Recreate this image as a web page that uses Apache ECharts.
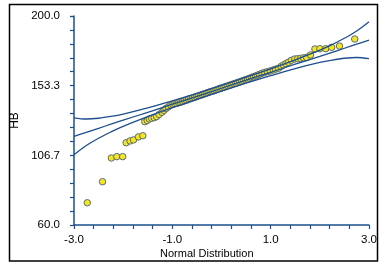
<!DOCTYPE html>
<html>
<head>
<meta charset="utf-8">
<script src="https://cdn.jsdelivr.net/npm/echarts@6/dist/echarts.min.js"></script>
<style>
    html, body { margin: 0; padding: 0; background: #fff; }
    #chart { width: 390px; height: 269px; }
</style>
</head>
<body>
<div id="chart"></div>
<script>
// normal scores (x) and HB values (y)
const normalScores = [
    -2.73, -2.42, -2.24, -2.13, -2.01, -1.94, -1.86, -1.79, -1.69, -1.60,
    -1.56, -1.51, -1.47, -1.42, -1.37, -1.32, -1.27, -1.21, -1.17, -1.13, -1.08, -1.03,
    -0.99, -0.95, -0.91, -0.87, -0.83, -0.79, -0.75, -0.71, -0.67, -0.63,
    -0.59, -0.55, -0.51, -0.47, -0.43, -0.39, -0.35, -0.31, -0.27, -0.23,
    -0.19, -0.15, -0.11, -0.07, -0.03, 0.01, 0.05, 0.09, 0.13, 0.17,
    0.21, 0.25, 0.29, 0.33, 0.37, 0.41, 0.45, 0.49, 0.53, 0.57,
    0.61, 0.65, 0.69, 0.73, 0.77, 0.82, 0.87, 0.93, 0.99, 1.05,
    1.10, 1.16, 1.21, 1.26, 1.31, 1.36, 1.42, 1.49, 1.55, 1.61,
    1.67, 1.73, 1.81, 1.90, 2.00, 2.12, 2.24, 2.40, 2.71
];
const hbValues = [
    74.9, 89.0, 104.9, 105.8, 105.8, 115.1, 116.3, 117.0, 119.0, 119.8,
    129.2, 130.0, 131.0, 131.5, 131.9, 132.6, 134.0, 135.5, 136.8, 138.0, 139.2, 140.3,
    140.8, 141.2, 141.5, 142.0, 142.3, 142.8, 143.2, 143.6, 144.3, 144.6,
    145.0, 145.5, 146.0, 146.5, 146.9, 147.4, 147.8, 148.3, 148.8, 149.2,
    149.6, 150.0, 150.5, 151.0, 151.5, 151.9, 152.3, 152.8, 153.2, 153.7,
    154.1, 154.6, 155.0, 155.5, 155.9, 156.4, 156.9, 157.3, 157.8, 158.3,
    158.8, 159.3, 159.8, 160.3, 160.9, 161.6, 162.1, 162.7, 163.2, 163.8,
    164.4, 165.0, 166.2, 167.2, 168.1, 169.0, 170.3, 171.2, 171.4, 171.6,
    172.0, 172.3, 173.9, 177.9, 178.1, 178.1, 179.0, 179.9, 184.6
];

// fit line and confidence limits, read at these normal scores
const curveZ = [-3, -2.75, -2.5, -2.25, -2, -1.5, -1, -0.5, 0, 0.5, 1, 1.5, 2, 2.25, 2.5, 2.75, 3];
const fitLine = [119.4, 122.1, 124.8, 127.5, 130.2, 135.5, 140.9, 146.2, 151.6, 157.0, 162.3, 167.7, 173.0, 175.7, 178.4, 181.1, 183.8];
const upperLimit = [131.8, 131.0, 131.5, 132.7, 134.3, 138.4, 143.2, 148.2, 153.5, 159.0, 164.6, 170.6, 177.1, 180.9, 185.1, 190.0, 196.2];
const lowerLimit = [107.0, 113.2, 118.1, 122.3, 126.1, 132.6, 138.6, 144.2, 149.7, 155.0, 160.0, 164.8, 168.9, 170.5, 171.7, 172.2, 171.4];

const yTicks = [60, 200];
const xTicks = [-3, 3];

const axisBlue = '#1d4f8e',
    font = '"Liberation Sans", Arial, sans-serif';

const pair = (xs, ys) => xs.map((x, i) => [x, ys[i]]);

const lineSeries = (vals) => ({
    type: 'line',
    data: pair(curveZ, vals),
    smooth: 0.35,
    showSymbol: false,
    symbol: 'none',
    z: 3,
    lineStyle: { color: axisBlue, width: 1.3 },
    silent: true,
});

const option = {
    animation: false,
    title: {
        text: 'Normal Distribution',
        left: 155,
        top: 243,
        textStyle: { fontFamily: font, fontSize: 11, fontWeight: 'normal', color: '#000' },
    },
    grid: { left: 74, right: 21, top: 16, bottom: 44 },
    graphic: [
        {
            type: 'rect',
            shape: { x: 9.5, y: 4.5, width: 368, height: 256.5 },
            style: { fill: 'none', stroke: '#000', lineWidth: 1.5 },
            z: 10,
        },
    ],
    xAxis: {
        type: 'value',
        min: xTicks[0],
        max: xTicks[1],
        interval: 2,
        axisLine: { onZero: false, lineStyle: { color: axisBlue, width: 1.5 } },
        axisTick: { show: true, length: 4, lineStyle: { color: axisBlue, width: 1.2 } },
        minorTick: { show: true, splitNumber: 5, length: 4, lineStyle: { color: axisBlue, width: 1.2 } },
        splitLine: { show: false },
        axisLabel: {
            margin: 9,
            fontFamily: font,
            fontSize: 11.5,
            color: '#000',
            formatter: (v) => v.toFixed(1),
        },
    },
    yAxis: {
        type: 'value',
        name: 'HB',
        nameLocation: 'middle',
        nameGap: 53,
        nameTextStyle: { fontFamily: font, fontSize: 12, color: '#000' },
        min: yTicks[0],
        max: yTicks[1],
        interval: (yTicks[1] - yTicks[0]) / 3,
        axisLine: { show: true, onZero: false, lineStyle: { color: axisBlue, width: 1.5 } },
        axisTick: { show: true, length: 4, lineStyle: { color: axisBlue, width: 1.2 } },
        minorTick: { show: true, splitNumber: 5, length: 4, lineStyle: { color: axisBlue, width: 1.2 } },
        splitLine: { show: false },
        axisLabel: {
            margin: 14,
            fontFamily: font,
            fontSize: 11.5,
            color: '#000',
            formatter: (v) => v.toFixed(1),
        },
    },
    series: [
        {
            type: 'scatter',
            data: pair(normalScores, hbValues),
            symbol: 'circle',
            symbolSize: 6.5,
            z: 2,
            itemStyle: { color: '#f7e51c', borderColor: '#566a86', borderWidth: 1, opacity: 1 },
        },
        lineSeries(fitLine),
        lineSeries(upperLimit),
        lineSeries(lowerLimit),
    ],
};

let myChart = echarts.init(document.getElementById('chart'));
myChart.setOption(option);
</script>
</body>
</html>
